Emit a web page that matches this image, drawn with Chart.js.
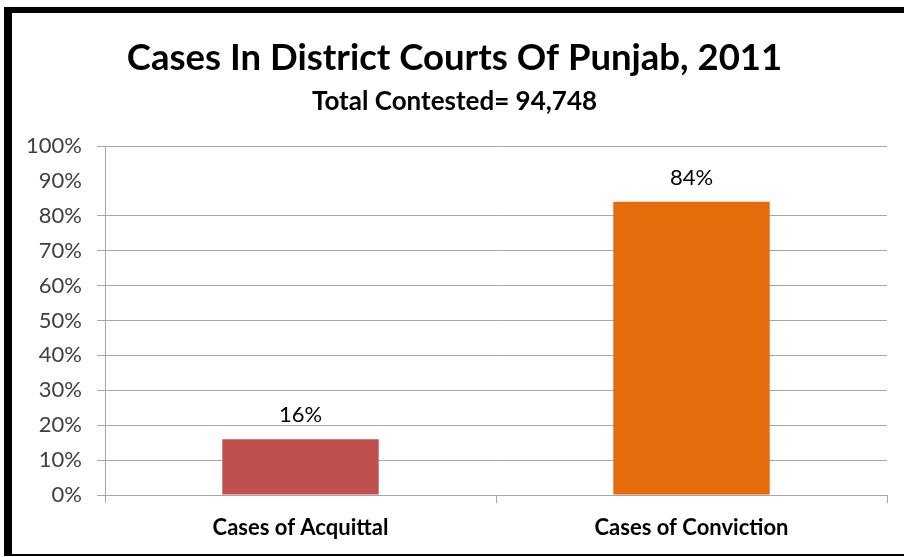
<!DOCTYPE html>
<html>
<head>
<meta charset="utf-8">
<title>Cases In District Courts Of Punjab, 2011</title>
<script src="https://cdn.jsdelivr.net/npm/chart.js@4.4.1/dist/chart.umd.min.js"></script>
<style>
  html, body { margin: 0; padding: 0; background: #fff; }
  #wrap { position: relative; width: 904px; height: 557px; overflow: hidden; }
  #chart { position: absolute; left: 0; top: 0; }
  #frame {
    position: absolute; left: 4px; top: 7px; width: 900px; height: 549px;
    box-sizing: border-box; pointer-events: none;
    border-top: 6px solid #000; border-left: 8px solid #000; border-bottom: 2px solid #000;
  }
</style>
</head>
<body>
<div id="wrap">
  <canvas id="chart" width="904" height="557"></canvas>
  <div id="frame"></div>
</div>
<script>
// Chart data
const categories = ['Cases of Acquittal', 'Cases of Conviction'];
const shares = [16, 84];
const barColors = ['#C0504D', '#E46C0A'];
const yTicks = [0, 10, 20, 30, 40, 50, 60, 70, 80, 90, 100];
const hiddenGridValue = 90; // this line is missing in the original

const FONT = 'Lato, "Open Sans", sans-serif';
const GRID = '#a6a6a6';

function isHidden(c) {
  return (c.tick && c.tick.value === hiddenGridValue) || yTicks[c.index] === hiddenGridValue;
}

// Percent labels above each bar
const barLabels = {
  id: 'barLabels',
  afterDatasetsDraw(chart) {
    const ctx = chart.ctx;
    const meta = chart.getDatasetMeta(0);
    ctx.save();
    ctx.font = '22px ' + FONT;
    ctx.fillStyle = '#000';
    ctx.textAlign = 'center';
    ctx.textBaseline = 'alphabetic';
    meta.data.forEach((bar, i) => {
      ctx.fillText(shares[i] + '%', bar.x, bar.y - 17);
    });
    ctx.restore();
  }
};

const ctx = document.getElementById('chart').getContext('2d');
new Chart(ctx, {
  type: 'bar',
  data: {
    labels: categories,
    datasets: [{
      data: shares,
      backgroundColor: barColors,
      borderWidth: 0,
      categoryPercentage: 1,
      barPercentage: 0.4
    }]
  },
  options: {
    responsive: false,
    animation: false,
    layout: { padding: { left: 22, right: 17, top: 0, bottom: 0 } },
    plugins: {
      legend: { display: false },
      tooltip: { enabled: false },
      title: {
        display: true,
        text: 'Cases In District Courts Of Punjab, 2011',
        color: '#000',
        font: { family: FONT, size: 36.5, weight: 'bold' },
        padding: { top: 36, bottom: 2 }
      },
      subtitle: {
        display: true,
        text: 'Total Contested= 94,748',
        color: '#000',
        font: { family: FONT, size: 26, weight: 'bold' },
        padding: { top: 4, bottom: 29 }
      }
    },
    scales: {
      x: {
        offset: true,
        grid: {
          display: true,
          offset: true,
          drawOnChartArea: false,
          tickLength: 8,
          color: GRID
        },
        border: { color: GRID, width: 1 },
        ticks: {
          color: '#000',
          padding: 12,
          font: { family: FONT, size: 22, weight: 'bold' }
        },
        afterFit(scale) { scale.height = 62; }
      },
      y: {
        min: 0,
        max: 100,
        afterBuildTicks(scale) { scale.ticks = yTicks.map(v => ({ value: v })); },
        grid: {
          tickLength: 8,
          color: c => isHidden(c) ? 'rgba(255,255,255,0)' : GRID,
          lineWidth: c => isHidden(c) ? 0 : 1
        },
        border: { color: GRID, width: 1 },
        ticks: {
          color: '#404040',
          padding: 15,
          font: { family: FONT, size: 22 },
          callback: v => v + '%'
        },
        afterFit(scale) { scale.width = 83; }
      }
    }
  },
  plugins: [barLabels]
});
</script>
</body>
</html>
